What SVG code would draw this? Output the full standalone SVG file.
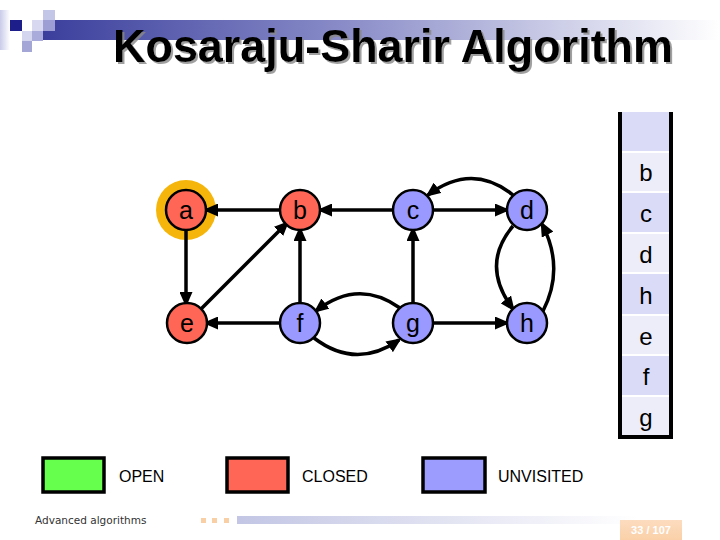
<svg xmlns="http://www.w3.org/2000/svg" width="720" height="540" viewBox="0 0 720 540">
<defs>
<linearGradient id="titleBar" x1="0" y1="0" x2="1" y2="0">
<stop offset="0" stop-color="#3B3F9C"/>
<stop offset="0.45" stop-color="#8A8DC8"/>
<stop offset="1" stop-color="#FFFFFF"/>
</linearGradient>
<linearGradient id="leftFade" x1="0" y1="0" x2="1" y2="0">
<stop offset="0" stop-color="#C9CBEA"/>
<stop offset="1" stop-color="#FFFFFF"/>
</linearGradient>
<linearGradient id="footBar" x1="0" y1="0" x2="1" y2="0">
<stop offset="0" stop-color="#C3C6E4"/>
<stop offset="1" stop-color="#FFFFFF"/>
</linearGradient>
<linearGradient id="pageBox" x1="0" y1="0" x2="0" y2="1">
<stop offset="0" stop-color="#FCDCBF"/>
<stop offset="1" stop-color="#FAD0A8"/>
</linearGradient>
<filter id="shadow" x="-5%" y="-20%" width="110%" height="150%">
<feDropShadow dx="2" dy="2" stdDeviation="0.6" flood-color="#888888" flood-opacity="0.8"/>
</filter>
<marker id="arrow" markerUnits="userSpaceOnUse" markerWidth="15" markerHeight="13" refX="12" refY="6.5" orient="auto">
<path d="M0,0 L15,6.5 L0,13 z" fill="#000"/>
</marker>
<style>
.edge{fill:none;stroke:#000;stroke-width:3.5;marker-end:url(#arrow)}
.node{stroke:#000;stroke-width:2.5}
.closed{fill:#FF6655}
.unvis{fill:#9999FF}
.nlabel{font-family:"Liberation Sans",Arial,sans-serif;font-size:25px;text-anchor:middle;fill:#000}
.slabel{font-family:"Liberation Sans",Arial,sans-serif;font-size:24px;text-anchor:middle;fill:#000}
.legend{font-family:"Liberation Sans",Arial,sans-serif;font-size:16px;fill:#000}
.lbox{stroke:#000;stroke-width:3.5}
.rowD{fill:#DADCF7}
.rowL{fill:#EDEDFA}
.sep{stroke:#FFFFFF;stroke-width:2}
.border{stroke:#000;stroke-width:4}
</style>
</defs>

<!-- header decoration -->
<g id="header">
<rect x="0" y="10" width="10" height="40" fill="url(#leftFade)"/>
<rect x="43" y="20" width="677" height="20" fill="url(#titleBar)"/>
<rect x="10" y="20" width="12" height="11" fill="#1E1E8A"/>
<rect x="43" y="10" width="12" height="10" fill="#C4C6E8"/>
<rect x="32" y="20" width="11" height="11" fill="#D8D9F0"/>
<rect x="43" y="20" width="12" height="11" fill="#9C9ED4"/>
<rect x="22" y="31" width="10" height="10" fill="#D4D5EE"/>
<rect x="32" y="31" width="11" height="10" fill="#A9ABDA"/>
<rect x="22" y="41" width="10" height="11" fill="#A4A6D6"/>
<text x="113" y="62" filter="url(#shadow)" font-family="'Liberation Sans',Arial,sans-serif" font-weight="bold" font-size="46" textLength="560" lengthAdjust="spacingAndGlyphs" fill="#000">Kosaraju-Sharir Algorithm</text>
</g>

<!-- highlight ring of the start node -->
<g id="node-a-highlight">
<circle cx="186" cy="210" r="30" fill="#F5B50A"/>
</g>

<!-- connectors -->
<g id="connectors">
<path class="edge" d="M280,210 L206,210"/>
<path class="edge" d="M393,210 L320,210"/>
<path class="edge" d="M433,210 L507,210"/>
<path class="edge" d="M513,195 Q472,162 428,195"/>
<path class="edge" d="M186,230 L186,304"/>
<path class="edge" d="M201,309 L287,223"/>
<path class="edge" d="M300,303 L300,229"/>
<path class="edge" d="M280,323 L206,323"/>
<path class="edge" d="M413,303 L413,229"/>
<path class="edge" d="M433,323 L507,323"/>
<path class="edge" d="M400,308 Q358,278 316,311"/>
<path class="edge" d="M314,338 Q356,370 399,340"/>
<path class="edge" d="M513,226 Q480,265 513,309"/>
<path class="edge" d="M543,311 Q565,268 542,224"/>
</g>

<!-- nodes -->
<g id="node-a">
<circle class="node closed" cx="186" cy="210" r="20"/>
<text class="nlabel" x="186" y="219">a</text>
</g>
<g id="node-b">
<circle class="node closed" cx="300" cy="210" r="20"/>
<text class="nlabel" x="300" y="219">b</text>
</g>
<g id="node-c">
<circle class="node unvis" cx="413" cy="210" r="20"/>
<text class="nlabel" x="413" y="219">c</text>
</g>
<g id="node-d">
<circle class="node unvis" cx="527" cy="210" r="20"/>
<text class="nlabel" x="527" y="219">d</text>
</g>
<g id="node-e">
<circle class="node closed" cx="187" cy="323" r="20"/>
<text class="nlabel" x="187" y="332">e</text>
</g>
<g id="node-f">
<circle class="node unvis" cx="300" cy="323" r="20"/>
<text class="nlabel" x="300" y="332">f</text>
</g>
<g id="node-g">
<circle class="node unvis" cx="413" cy="323" r="20"/>
<text class="nlabel" x="413" y="332">g</text>
</g>
<g id="node-h">
<circle class="node unvis" cx="527" cy="323" r="20"/>
<text class="nlabel" x="527" y="332">h</text>
</g>

<!-- stack -->
<g id="stack">
<rect class="rowD" x="620" y="112" width="51" height="40"/>
<rect class="rowL" x="620" y="152" width="51" height="40"/>
<rect class="rowD" x="620" y="192" width="51" height="41"/>
<rect class="rowL" x="620" y="233" width="51" height="40"/>
<rect class="rowD" x="620" y="273" width="51" height="42"/>
<rect class="rowL" x="620" y="315" width="51" height="40"/>
<rect class="rowD" x="620" y="355" width="51" height="41"/>
<rect class="rowL" x="620" y="396" width="51" height="41"/>
<line class="sep" x1="620" y1="152" x2="671" y2="152"/>
<line class="sep" x1="620" y1="192" x2="671" y2="192"/>
<line class="sep" x1="620" y1="233" x2="671" y2="233"/>
<line class="sep" x1="620" y1="273" x2="671" y2="273"/>
<line class="sep" x1="620" y1="315" x2="671" y2="315"/>
<line class="sep" x1="620" y1="355" x2="671" y2="355"/>
<line class="sep" x1="620" y1="396" x2="671" y2="396"/>
<path class="border" fill="none" d="M620,112 L620,437 L671,437 L671,112"/>
<text class="slabel" x="646" y="181">b</text>
<text class="slabel" x="646" y="222">c</text>
<text class="slabel" x="646" y="263">d</text>
<text class="slabel" x="646" y="304">h</text>
<text class="slabel" x="646" y="345">e</text>
<text class="slabel" x="646" y="385">f</text>
<text class="slabel" x="646" y="426">g</text>
</g>

<!-- legend -->
<g id="legend-open">
<rect class="lbox" x="43" y="458" width="61" height="34" fill="#66FF4D"/>
<text class="legend" x="119" y="482">OPEN</text>
</g>
<g id="legend-closed">
<rect class="lbox" x="227" y="458" width="61" height="34" fill="#FF6655"/>
<text class="legend" x="302" y="482">CLOSED</text>
</g>
<g id="legend-unvisited">
<rect class="lbox" x="423" y="458" width="62" height="34" fill="#9C9CFF"/>
<text class="legend" x="498" y="482">UNVISITED</text>
</g>

<!-- footer -->
<g id="footer">
<text x="35" y="524" font-family="'DejaVu Sans',Verdana,sans-serif" font-size="10.5" fill="#333">Advanced algorithms</text>
<rect x="201" y="518" width="5" height="5" fill="#F9CFA5"/>
<rect x="212" y="518" width="5" height="5" fill="#F9CFA5"/>
<rect x="224" y="518" width="5" height="5" fill="#F9CFA5"/>
<rect x="237" y="516" width="400" height="8" fill="url(#footBar)"/>
<rect x="620" y="520" width="62" height="20" fill="url(#pageBox)"/>
<text x="651" y="534" font-family="'Liberation Sans',Arial,sans-serif" font-size="11" font-weight="bold" text-anchor="middle" fill="#FFFFFF">33 / 107</text>
</g>
</svg>
